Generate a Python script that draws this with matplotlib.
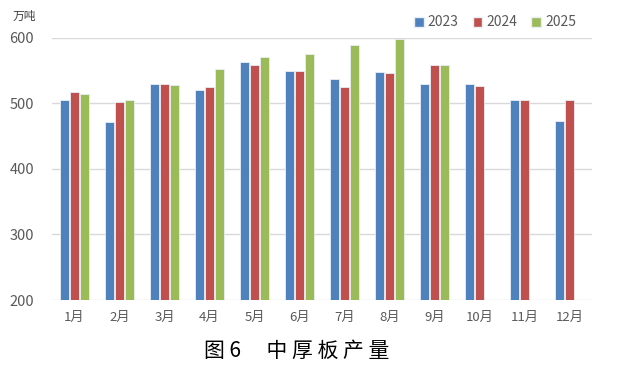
import numpy as np
import matplotlib.pyplot as plt
from matplotlib.patches import Patch

plt.rcParams['font.family'] = ['Noto Sans CJK SC', 'DejaVu Sans']

months = ['1月', '2月', '3月', '4月', '5月', '6月', '7月', '8月', '9月', '10月', '11月', '12月']
years = ['2023', '2024', '2025']
v2023 = [506, 472, 530, 521, 563, 550, 537, 548, 530, 530, 505, 474]
v2024 = [517, 503, 530, 525, 559, 550, 525, 546, 559, 526, 506, 505]
v2025 = [515, 506, 528, 552, 571, 575, 590, 599, 559]
colors = ['#4F81BD', '#C0504D', '#9BBB59']

fig = plt.figure(figsize=(6.23, 3.75), dpi=100)
ax = fig.add_axes([0.0835, 0.2, 0.8665, 0.6987])

x = np.arange(len(months))
bw = 0.19
step = 0.222
series = [v2023, v2024, v2025]
for i, (vals, c) in enumerate(zip(series, colors)):
    xs = x[:len(vals)] + (i - 1) * step
    ax.bar(xs, np.array(vals) - 200, bottom=200, width=bw, color=c,
           edgecolor='#E8EEF6', linewidth=0.6, zorder=3)

ax.set_xlim(-0.5, 11.5)
ax.set_ylim(200, 600)
ax.set_yticks([200, 300, 400, 500, 600])
ax.yaxis.grid(True, color='#D9D9D9', linewidth=1.0, zorder=0)
for s in ['top', 'right', 'left', 'bottom']:
    ax.spines[s].set_visible(False)
ax.tick_params(axis='both', length=0, colors='#595959')
ax.tick_params(axis='y', labelsize=10.5, pad=13)
ax.set_xticks(x)
ax.set_xticklabels(months, fontsize=9.5)
ax.tick_params(axis='x', pad=8)

handles = [Patch(facecolor=c, edgecolor='#E8EEF6') for c in colors]
leg = fig.legend(handles, years, loc='center right', bbox_to_anchor=(0.945, 0.94),
                 ncol=3, frameon=False, fontsize=10, handlelength=0.7,
                 handleheight=0.7, handletextpad=0.3, columnspacing=1.0)
for t in leg.get_texts():
    t.set_color('#595959')

fig.text(0.02, 0.955, '万吨', fontsize=8.5, color='#404040', va='center')
fig.text(0.477, 0.065, '图 6　 中 厚 板 产 量', fontsize=15, color='#000000',
         ha='center', va='center', fontweight='light')

fig.savefig('out.png', dpi=100)
